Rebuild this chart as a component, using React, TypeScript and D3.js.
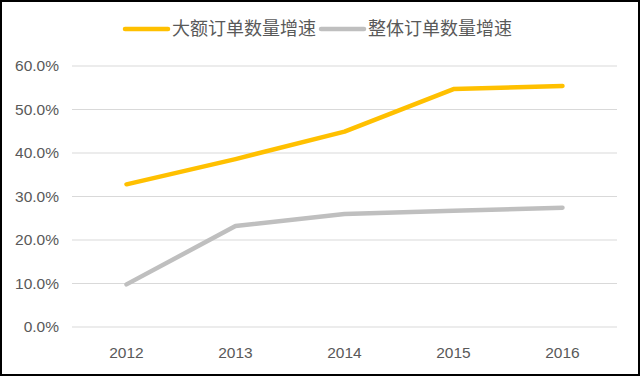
import React from "react";
import * as d3 from "d3";

const years = ["2012", "2013", "2014", "2015", "2016"];
const bigOrders = [32.8, 38.6, 44.9, 54.7, 55.4];
const allOrders = [9.8, 23.2, 26.0, 26.7, 27.4];
const yTicks = [0, 10, 20, 30, 40, 50, 60];
const seriesNames = ["大额订单数量增速", "整体订单数量增速"];
const colors = ["#FFC000", "#BFBFBF"];

export default function App() {
  const W = 640, H = 376;
  const x = d3.scaleBand<string>().domain(years).range([72, 617]);
  const y = d3.scaleLinear().domain([0, 60]).range([327, 66]);
  const line = d3
    .line<number>()
    .x((_, i) => (x(years[i]) as number) + x.bandwidth() / 2)
    .y((d) => y(d));
  const font = "'Liberation Sans', 'DejaVu Sans', sans-serif";
  const cjk = "'Noto Sans CJK SC', sans-serif";
  const series = [bigOrders, allOrders];
  const legend = [
    { x1: 125, x2: 168, tx: 172 },
    { x1: 321, x2: 364, tx: 368 },
  ];
  return (
    <svg width={W} height={H} style={{ position: "absolute", left: 0, top: 0 }}>
      <rect x={0} y={0} width={W} height={H} fill="#fff" />
      {yTicks.map((t) => (
        <g key={t}>
          <line x1={72} x2={617} y1={y(t)} y2={y(t)} stroke="#d9d9d9" strokeWidth={1} />
          <text
            x={59}
            y={y(t)}
            dy="0.35em"
            textAnchor="end"
            fontFamily={font}
            fontSize={15.5}
            fill="#595959"
          >
            {t.toFixed(1) + "%"}
          </text>
        </g>
      ))}
      {years.map((yr) => (
        <text
          key={yr}
          x={(x(yr) as number) + x.bandwidth() / 2}
          y={353}
          dy="0.35em"
          textAnchor="middle"
          fontFamily={font}
          fontSize={15.5}
          fill="#595959"
        >
          {yr}
        </text>
      ))}
      {series.map((s, i) => (
        <path
          key={i}
          d={line(s) || ""}
          fill="none"
          stroke={colors[i]}
          strokeWidth={4.5}
          strokeLinecap="round"
          strokeLinejoin="round"
        />
      ))}
      {legend.map((l, i) => (
        <g key={i}>
          <line x1={l.x1} x2={l.x2} y1={29} y2={29} stroke={colors[i]} strokeWidth={4.5} strokeLinecap="round" />
          <text x={l.tx} y={29} dy="0.35em" fontFamily={cjk} fontSize={18} fill="#595959">
            {seriesNames[i]}
          </text>
        </g>
      ))}
      <rect x={1} y={1} width={W - 2} height={H - 2} fill="none" stroke="#000" strokeWidth={2} />
    </svg>
  );
}
